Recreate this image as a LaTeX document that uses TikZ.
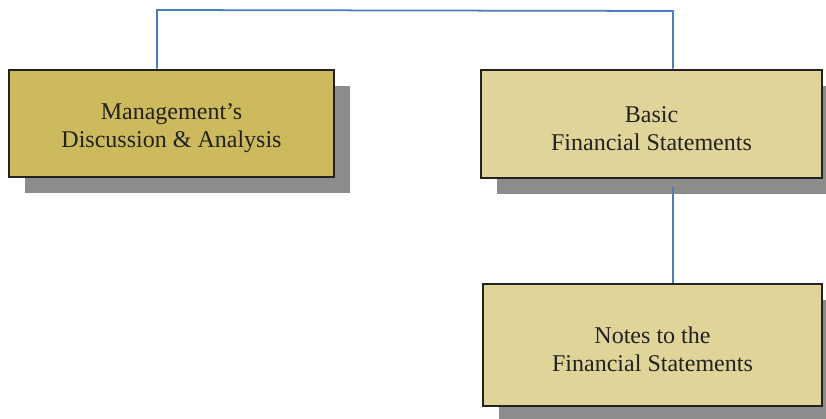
\documentclass[tikz,border=0pt]{standalone}
\usepackage{fontspec}
\setmainfont{Liberation Serif}
\usepackage{tikz}
\usetikzlibrary{shadows}
\definecolor{gold}{RGB}{205,186,92}
\definecolor{sand}{RGB}{224,212,152}
\definecolor{linkblue}{RGB}{72,126,192}
\definecolor{ink}{RGB}{34,34,34}
\newcommand{\topgap}{\rule{0pt}{1.08em}}

\begin{document}
\begin{tikzpicture}[x=0.03cm, y=-0.03cm,
node_style/.style={rectangle,draw=ink,line width=2.4pt,text=ink,align=center,
  font=\fontsize{20.5}{23.9}\selectfont,
  drop shadow={shadow xshift=0.48cm,shadow yshift=-0.48cm,fill=black!45,opacity=1}},
edge_style/.style={draw=linkblue, line width=1.5pt}]
\useasboundingbox (0,0) rectangle (826,419);

\node[node_style,fill=gold,minimum width=9.75cm,minimum height=3.21cm] (a) at (171.5,123.5) {\topgap Management's\\Discussion \& Analysis};
\node[node_style,fill=sand,minimum width=10.23cm,minimum height=3.24cm] (b) at (651.5,124) {\topgap Basic\\Financial Statements};
\node[node_style,fill=sand,minimum width=10.17cm,minimum height=3.66cm] (c) at (652.5,345) {\topgap Notes to the\\Financial Statements};

\coordinate (ta) at (157,10);
\coordinate (tb) at (673,11);

\draw[edge_style]  (a.north -| ta) -- (ta) -- (tb) -- (tb |- b.north);
\draw[edge_style]  (tb |- b.south) ++(0,8) -- (tb |- c.north);

\end{tikzpicture}
\end{document}
